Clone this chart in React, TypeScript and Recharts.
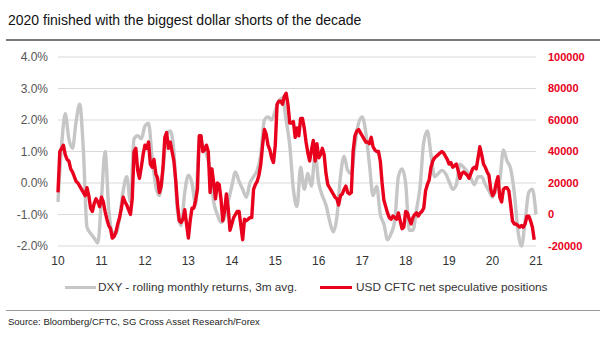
import { LineChart, Line, XAxis, YAxis, CartesianGrid } from 'recharts'

const years = [10, 11, 12, 13, 14, 15, 16, 17, 18, 19, 20, 21]
const pctTicks = [-2, -1, 0, 1, 2, 3, 4]
const posTicks = [-20000, 0, 20000, 40000, 60000, 80000, 100000]

// DXY rolling monthly returns, 3m avg (%), one value per month from Jan 2010
const dxyReturns = [
  -0.6, 1.2, 2.2, 1.4, 1.1, 1.95, 2.5, 1.05, -1.4, -1.6, -1.75, -1.9,
  -0.5, 1.0, -0.8, -1.55, -1.6, -1.1, -0.25, 0.2, -0.6, 1.4, 1.5, 1.4,
  1.8, 1.9, 0.8, -0.1, -0.4, 0.4, 1.55, 1.65, 1.0, -0.9, -1.35, -0.3,
  0.25, 0.0, -0.7, 1.3, 1.2, 0.9, 0.4, -0.6, -1.0, -1.25, -1.1, -0.6,
  -0.1, 0.35, 0.05, -0.2, -0.45, 0.0, 0.2, 0.4, 0.9, 2.0, 2.1, 2.0,
  2.3, 2.6, 2.7, 2.0, 1.2, -0.2, -0.75, 0.5, -0.2, 0.3, -0.1, 0.9,
  0.0, -0.4, -0.7, -1.2, -1.55, -1.1, 0.2, 0.85, 0.4, 0.3, 1.2, 1.9,
  2.1, 1.6, 0.6, -0.4, -0.1, -1.0, -1.3, -1.8, -1.6, -1.2, 0.2, 0.45,
  0.0, -1.5, -1.5, -0.85, -0.1, 1.3, 1.65, 0.9, 0.2, 0.3, 0.4, 0.3,
  0.05, -0.2, -0.05, 0.6, 0.5, 0.35, 0.15, -0.05, 0.2, 0.2, -0.05, -0.25,
  -0.45, -0.2, 0.1, 1.05, 0.7, 0.45, -0.3, -1.5, -2.0, -1.2, -0.3, -0.2,
  -1.0,
]

// USD CFTC net speculative positions, twice a month from Jan 2010
const cftcPositions = [
  14000, 40000, 42000, 44000, 38000, 35000, 34000, 29000, 27000, 24000, 21000, 20000,
  18000, 16000, 14000, 12000, 17000, 12000, 4000, 2000, 7000, 10000, 8000, 5000,
  11000, 8000, 2000, -3000, -7000, -9000, -15000, -14000, -11000, -6000, -2000, 4000,
  11000, 8000, 6000, 3000, 0, 10000, 40000, 42000, 28000, 23000, 30000, 38000,
  44000, 42000, 46000, 32000, 30000, 35000, 26000, 23000, 14000, 18000, 30000, 49000,
  52000, 42000, 46000, 40000, 34000, 22000, 6000, -4000, -5000, -3000, 3000, -6000,
  -15000, -4000, 4000, 4000, 9000, 16000, 50000, 50000, 40000, 41000, 44000, 40000,
  14000, 29000, 20000, 10000, 20000, 19000, 10000, -4000, 2000, 13000, 4000, -10000,
  -6000, -2000, 0, 2000, 2000, -7000, -16000, -3000, -4000, -3000, -2000, -2000,
  16000, 19000, 21000, 25000, 32000, 44000, 54000, 51000, 44000, 41000, 36000, 33000,
  44000, 70000, 72000, 72000, 70000, 75000, 77000, 70000, 58000, 58000, 59000, 49000,
  55000, 50000, 61000, 61000, 55000, 46000, 39000, 34000, 41000, 47000, 34000, 45000,
  36000, 38000, 42000, 38000, 26000, 19000, 17000, 15000, 13000, 11000, 10000, 6000,
  12000, 13000, 16000, 18000, 14000, 13000, 14000, 40000, 50000, 53000, 54000, 52000,
  50000, 48000, 46000, 46000, 45000, 49000, 43000, 41000, 40000, 40000, 34000, 20000,
  9000, 5000, 1000, -2000, -3000, -1000, -2000, -3000, 1000, -4000, -9000, -8000,
  2000, 1000, -3000, -6000, -2000, 0, 1000, -1000, 1000, 2000, 4000, 15000,
  19000, 22000, 30000, 34000, 36000, 37000, 38000, 39000, 40000, 39000, 37000, 35000,
  32000, 33000, 30000, 31000, 32000, 28000, 23000, 26000, 27000, 26000, 25000, 23000,
  26000, 29000, 30000, 29000, 36000, 43000, 38000, 32000, 30000, 27000, 25000, 16000,
  12000, 14000, 20000, 24000, 11000, 8000, 16000, 17000, 17000, 15000, 6000, -4000,
  -6000, -6000, -7000, -8000, -7000, -8000, -6000, -1000, -1000, -4000, -8000, -16000,
]

const dxyData = dxyReturns.map((v, i) => ({ t: 10 + i / 12, dxy: v }))
const cftcData = cftcPositions.map((v, i) => ({ t: 10 + i / 24, cftc: v }))

const GREY = '#c6c6c6'
const RED = '#e8001c'
const FONT = '"Liberation Sans", Arial, sans-serif'

export default function App() {
  return (
    <div style={{ position: 'absolute', left: 0, top: 0, width: 605, height: 341, background: '#fff', fontFamily: FONT }}>
      <div style={{ position: 'absolute', left: 8, top: 12, fontSize: 14, color: '#111', whiteSpace: 'nowrap' }}>
        2020 finished with the biggest dollar shorts of the decade
      </div>
      <div style={{ position: 'absolute', left: 6, top: 39, width: 594, height: 2, background: '#7a7a7a' }} />

      <div style={{ position: 'absolute', left: 0, top: 0 }}>
        <LineChart width={605} height={276} margin={{ top: 57, right: 0, bottom: 0, left: 0 }}>
          <CartesianGrid yAxisId="left" vertical={false} stroke="#d9d9d9" strokeWidth={1.2} />
          <XAxis
            dataKey="t"
            type="number"
            domain={[10, 21]}
            ticks={years}
            interval={0}
            axisLine={false}
            tickLine={false}
            tickSize={0}
            tickMargin={10}
            height={30}
            tick={{ fill: '#333', fontSize: 12, fontFamily: FONT }}
          />
          <YAxis
            yAxisId="left"
            orientation="left"
            domain={[-2, 4]}
            ticks={pctTicks}
            interval={0}
            width={58}
            axisLine={false}
            tickLine={false}
            tickSize={0}
            tickMargin={10}
            tickFormatter={(v: number) => `${v.toFixed(1)}%`}
            tick={{ fill: '#555', fontSize: 12, fontFamily: FONT }}
          />
          <YAxis
            yAxisId="right"
            orientation="right"
            domain={[-20000, 100000]}
            ticks={posTicks}
            interval={0}
            width={69}
            axisLine={false}
            tickLine={false}
            tickSize={0}
            tickMargin={12}
            tick={{ fill: RED, fontSize: 11, fontWeight: 'bold', fontFamily: FONT }}
          />
          <Line
            yAxisId="left"
            data={dxyData}
            dataKey="dxy"
            type="monotone"
            stroke={GREY}
            strokeWidth={3.4}
            dot={false}
            strokeLinejoin="round"
            isAnimationActive={false}
          />
          <Line
            yAxisId="right"
            data={cftcData}
            dataKey="cftc"
            type="linear"
            stroke={RED}
            strokeWidth={3.4}
            dot={false}
            strokeLinejoin="round"
            isAnimationActive={false}
          />
        </LineChart>
      </div>

      <div style={{ position: 'absolute', left: 65, top: 286, width: 31, height: 3, background: GREY }} />
      <div style={{ position: 'absolute', left: 98, top: 280, fontSize: 11.8, color: '#333', whiteSpace: 'nowrap' }}>
        DXY - rolling monthly returns, 3m avg.
      </div>
      <div style={{ position: 'absolute', left: 320, top: 286, width: 32, height: 3, background: RED }} />
      <div style={{ position: 'absolute', left: 356, top: 280, fontSize: 11.8, color: '#333', whiteSpace: 'nowrap' }}>
        USD CFTC net speculative positions
      </div>

      <div style={{ position: 'absolute', left: 6, top: 310, width: 594, height: 1, background: '#999' }} />
      <div style={{ position: 'absolute', left: 8, top: 316, fontSize: 9.5, color: '#222', whiteSpace: 'nowrap' }}>
        Source: Bloomberg/CFTC, SG Cross Asset Research/Forex
      </div>
    </div>
  )
}
